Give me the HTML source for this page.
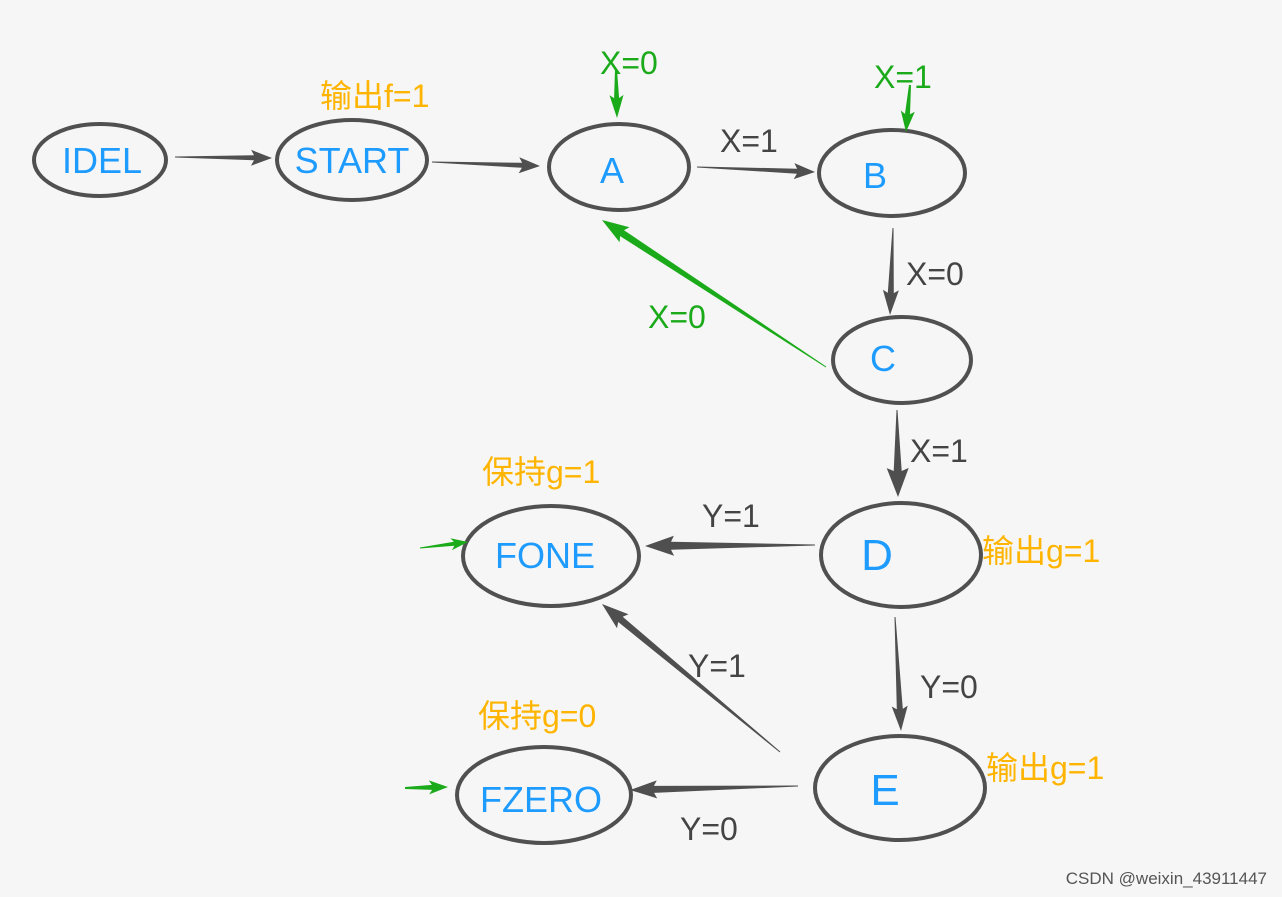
<!DOCTYPE html>
<html><head><meta charset="utf-8"><style>
body{margin:0;background:#f6f6f6;}
svg{display:block;font-family:"Liberation Sans","Noto Sans CJK SC",sans-serif;}
.n{fill:#1e9bff;font-size:36px;text-anchor:middle;}
.g{fill:#444;font-size:32px;}
.o{fill:#ffb400;font-size:32px;}
.gr{fill:#1aaa1a;font-size:32px;}
ellipse{fill:none;stroke:#505050;stroke-width:4;}
</style></head><body>
<svg id="s" width="1282" height="897" viewBox="0 0 1282 897">
<rect width="1282" height="897" fill="#f6f6f6"/>
<ellipse cx="100" cy="160" rx="66" ry="36"/>
<ellipse cx="352" cy="160" rx="75" ry="40"/>
<ellipse cx="619" cy="167" rx="70" ry="43"/>
<ellipse cx="892" cy="173" rx="73" ry="43"/>
<ellipse cx="902" cy="360" rx="69" ry="43"/>
<ellipse cx="901" cy="555" rx="80" ry="52"/>
<ellipse cx="551" cy="556" rx="88" ry="50"/>
<ellipse cx="900" cy="788" rx="85" ry="52"/>
<ellipse cx="544" cy="795" rx="87" ry="48"/>
<text class="n" x="102" y="173">IDEL</text>
<text class="n" x="352" y="173">START</text>
<text class="n" x="612" y="183">A</text>
<text class="n" x="875" y="188">B</text>
<text class="n" x="883" y="371">C</text>
<text class="n" x="877" y="570" style="font-size:44px">D</text>
<text class="n" x="545" y="568">FONE</text>
<text class="n" x="885" y="805" style="font-size:44px">E</text>
<text class="n" x="541" y="812">FZERO</text>
<text class="o" x="320" y="107">输出f=1</text>
<text class="gr" x="600" y="74">X=0</text>
<text class="gr" x="874" y="88">X=1</text>
<text class="g" x="720" y="152">X=1</text>
<text class="g" x="906" y="285">X=0</text>
<text class="gr" x="648" y="328">X=0</text>
<text class="g" x="910" y="462">X=1</text>
<text class="o" x="482" y="483">保持g=1</text>
<text class="g" x="702" y="527">Y=1</text>
<text class="o" x="982" y="562">输出g=1</text>
<text class="g" x="688" y="677">Y=1</text>
<text class="g" x="920" y="698">Y=0</text>
<text class="o" x="478" y="727">保持g=0</text>
<text class="o" x="986" y="779">输出g=1</text>
<text class="g" x="680" y="840">Y=0</text>
<text x="1267" y="884" style="fill:#555;font-size:17px;text-anchor:end">CSDN @weixin_43911447</text>
<g id="arr"></g>
</svg>
<script>
var G='#4f4f4f',GR='#1aaa1a';
var A=[
[175,157,272,158,G,1,5,16,18],
[432,162,540,166,G,1,5,16,18],
[697,167,815,172,G,1,5,16,18],
[893,228,890,315,G,1,6,16,22],
[897,410,898,497,G,1,8,22,26],
[815,545,645,546,G,1,8,20,26],
[895,617,901,731,G,1,6,16,22],
[780,752,602,604,G,1,7,18,24],
[798,786,630,790,G,1,7,18,24],
[826,367,602,220,GR,1,7,18,24],
[616,70,617,118,GR,2,5,14,20],
[910,85,906,132,GR,2,5,14,18],
[420,548,468,542,GR,1,4,12,14],
[405,788,448,787,GR,2,5,14,16]];
var s='';
A.forEach(function(a){
var x1=a[0],y1=a[1],x2=a[2],y2=a[3],dx=x2-x1,dy=y2-y1,L=Math.hypot(dx,dy),ux=dx/L,uy=dy/L,px=-uy,py=ux;
var t=a[5]/2,b=a[6]/2,h=a[7]/2,hl=a[8];
var bx=x2-ux*hl,by=y2-uy*hl;
var pts=[[x1+px*t,y1+py*t],[bx+px*b,by+py*b],[bx-ux*3+px*h,by-uy*3+py*h],[x2,y2],[bx-ux*3-px*h,by-uy*3-py*h],[bx-px*b,by-py*b],[x1-px*t,y1-py*t]];
s+='<polygon fill="'+a[4]+'" points="'+pts.map(function(p){return p[0].toFixed(1)+','+p[1].toFixed(1)}).join(' ')+'"/>';
});
document.getElementById('arr').innerHTML=s;
</script>
</body></html>
